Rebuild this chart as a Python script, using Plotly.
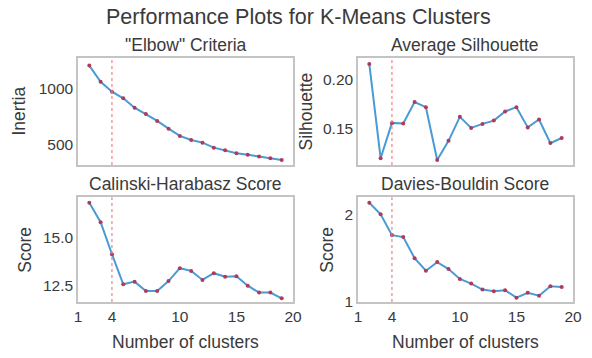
import plotly.graph_objects as go

clusters = list(range(2, 20))
inertia = [1200, 1058, 970, 912, 829, 773, 712, 644, 580, 544, 521, 477, 454, 427, 415, 400, 383, 368]
silhouette = [0.2152, 0.1206, 0.1561, 0.1555, 0.177, 0.1719, 0.1189, 0.1381, 0.1622, 0.151,
              0.1551, 0.1584, 0.1676, 0.1719, 0.1516, 0.1595, 0.1358, 0.1409]
calinski = [16.82, 15.80, 14.14, 12.57, 12.71, 12.22, 12.22, 12.74, 13.41, 13.27,
            12.80, 13.15, 12.97, 12.99, 12.50, 12.14, 12.14, 11.84]
davies = [2.137, 2.003, 1.763, 1.74, 1.497, 1.351, 1.451, 1.371, 1.256, 1.203,
          1.134, 1.114, 1.126, 1.04, 1.096, 1.062, 1.172, 1.164]
chosen_k = 4

titles = ['"Elbow" Criteria', "Average Silhouette", "Calinski-Harabasz Score", "Davies-Bouldin Score"]
ylabels = ["Inertia", "Silhouette", "Score", "Score"]
series = [inertia, silhouette, calinski, davies]
yranges = [[324, 1267], [0.1138, 0.2213], [11.65, 17.10], [0.99, 2.2]]
ytickvals = [[500, 1000], [0.15, 0.20], [12.5, 15.0], [1, 2]]
yticktext = [["500", "1000"], ["0.15", "0.20"], ["12.5", "15.0"], ["1", "2"]]
xtickvals = [1, 4, 10, 15, 20]

# page body has an 8px margin: figure is drawn 8px in from the window's top-left
OFF = 8
W, H = 592 - OFF, 358 - OFF


def px_x(p):
    return (p - OFF) / W


def px_y(p):
    return 1 - (p - OFF) / H


xdoms = [[px_x(78), px_x(293)], [px_x(358), px_x(573)]]
ydoms = [[px_y(165), px_y(58)], [px_y(302), px_y(197.3)]]
ylabel_x = [18, 305, 25, 327]

FONT = "Liberation Sans, Arial, sans-serif"
TXT = "#3a3a3a"
FRAME = "#c4c4c4"

fig = go.Figure()
layout = dict(
    width=W, height=H, margin=dict(l=0, r=0, t=0, b=0, autoexpand=False),
    paper_bgcolor="white", plot_bgcolor="white",
    showlegend=False, font=dict(family=FONT, color=TXT),
)
annotations = [dict(text="Performance Plots for K-Means Clusters", x=px_x(298), y=px_y(17),
                    xref="paper", yref="paper", showarrow=False,
                    font=dict(size=21.5, color=TXT, family=FONT), xanchor="center", yanchor="middle")]
shapes = []

for i in range(4):
    r, c = divmod(i, 2)
    n = i + 1
    xa = "x" if n == 1 else f"x{n}"
    ya = "y" if n == 1 else f"y{n}"
    fig.add_trace(go.Scatter(
        x=clusters, y=series[i], mode="lines+markers", xaxis=xa, yaxis=ya,
        line=dict(color="#4a9ad6", width=2),
        marker=dict(color="#b03a5a", size=4),
    ))
    layout[f"xaxis{'' if n == 1 else n}"] = dict(
        domain=xdoms[c], range=[1, 20], anchor=ya, automargin=False,
        tickvals=xtickvals, ticktext=[str(v) for v in xtickvals],
        showticklabels=(r == 1), showgrid=False, zeroline=False,
        showline=True, linecolor=FRAME, linewidth=1.5, mirror=True, ticks="",
        tickfont=dict(size=15.5, color=TXT),
    )
    layout[f"yaxis{'' if n == 1 else n}"] = dict(
        domain=ydoms[r], range=yranges[i], anchor=xa, automargin=False,
        tickvals=ytickvals[i], ticktext=yticktext[i],
        showgrid=False, zeroline=False,
        showline=True, linecolor=FRAME, linewidth=1.5, mirror=True, ticks="",
        tickfont=dict(size=15.5, color=TXT),
    )
    shapes.append(dict(type="line", xref=xa, yref=f"{ya} domain", x0=chosen_k, x1=chosen_k,
                       y0=0, y1=1, line=dict(color="#f08080", width=1.2, dash="dot")))
    annotations.append(dict(text=titles[i], x=(xdoms[c][0] + xdoms[c][1]) / 2,
                            y=ydoms[r][1], xref="paper", yref="paper", showarrow=False,
                            xanchor="center", yanchor="bottom", yshift=1,
                            font=dict(size=17.5, color=TXT, family=FONT)))
    annotations.append(dict(text=ylabels[i], x=px_x(ylabel_x[i]),
                            y=(ydoms[r][0] + ydoms[r][1]) / 2, xref="paper", yref="paper",
                            showarrow=False, textangle=-90, xanchor="center", yanchor="middle",
                            font=dict(size=17.5, color=TXT, family=FONT)))
    if r == 1:
        annotations.append(dict(text="Number of clusters", x=(xdoms[c][0] + xdoms[c][1]) / 2,
                                y=px_y(342), xref="paper", yref="paper", showarrow=False,
                                xanchor="center", yanchor="middle",
                                font=dict(size=17.5, color=TXT, family=FONT)))

layout["annotations"] = annotations
layout["shapes"] = shapes
fig.update_layout(**layout)
fig.write_html("out.html")
